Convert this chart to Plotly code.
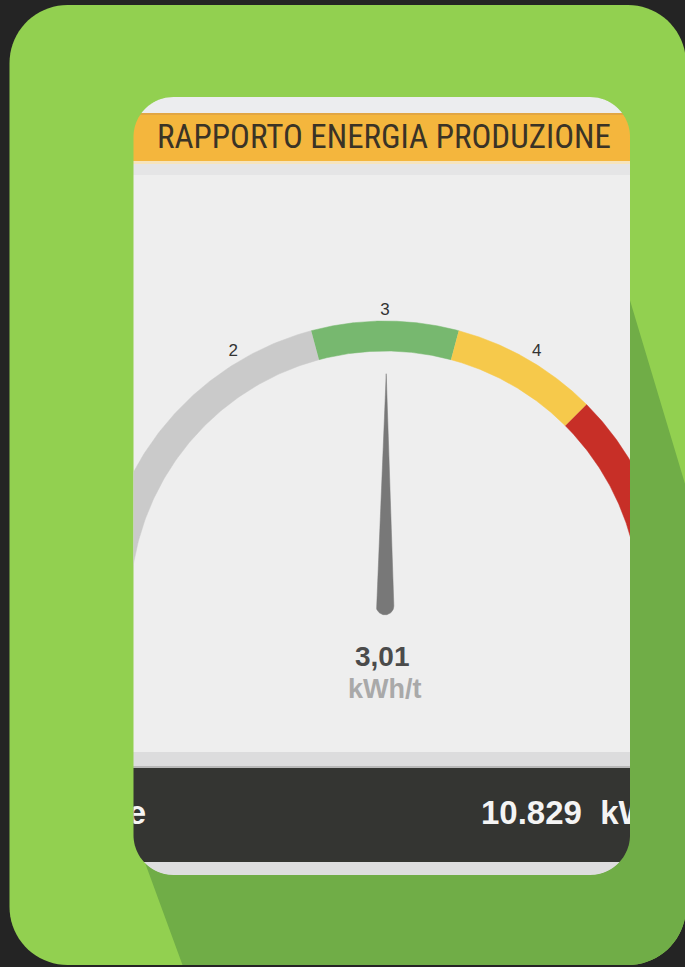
import numpy as np
import plotly.graph_objects as go

# ---------------- data ----------------
title_text = "RAPPORTO ENERGIA PRODUZIONE"
gauge_min, gauge_max = 0, 6
band_edges = [0, 2.5, 3.5, 4.5, 6]
band_colors = ["#cacaca", "#77b86f", "#f6c94b", "#c72f27"]
tick_values = [2, 3, 4]
tick_labels = ["2", "3", "4"]
value = 3.01
unit_label = "kWh/t"
total_label = "Consumo totale"
total_value = 10829
total_unit = "kWh"

# ---------------- geometry (pixels) ----------------
W, H = 685, 967
CX, CY = 385, 606          # gauge centre
RPX = 285                  # outer radius in px
R_IN = 255 / RPX           # inner radius (units of outer radius)
CARD = (133.5, 97, 630, 875)
CARD_R = 40
BG = (9.5, 5, 686, 965)
BG_R = 58


def px2paper(pts):
    return [(x / W, 1 - y / H) for x, y in pts]


def path_from(pts):
    pp = px2paper(pts)
    s = "M %.5f,%.5f " % pp[0]
    s += " ".join("L %.5f,%.5f" % p for p in pp[1:])
    return s + " Z"


def rounded_rect_pts(x0, y0, x1, y1, r, n=20):
    pts = []
    corners = [((x1 - r, y0 + r), -np.pi / 2, 0),
               ((x1 - r, y1 - r), 0, np.pi / 2),
               ((x0 + r, y1 - r), np.pi / 2, np.pi),
               ((x0 + r, y0 + r), np.pi, 1.5 * np.pi)]
    for (cx, cy), a0, a1 in corners:
        for t in np.linspace(a0, a1, n):
            pts.append((cx + r * np.cos(t), cy + r * np.sin(t)))
    return pts


def card_bounds(y):
    x0, y0, x1, y1 = CARD
    r = CARD_R
    if y < y0 + r:
        dy = y0 + r - y
    elif y > y1 - r:
        dy = y - (y1 - r)
    else:
        dy = 0
    dx = r - np.sqrt(max(r * r - dy * dy, 0))
    return x0 + dx, x1 - dx


def band_pts(ya, yb, n=40):
    ys = np.linspace(ya, yb, n)
    left = [(card_bounds(y)[0], y) for y in ys]
    right = [(card_bounds(y)[1], y) for y in ys[::-1]]
    return left + right


shapes = []
# green tile
shapes.append(dict(type="path", xref="paper", yref="paper", layer="below",
                   path=path_from(rounded_rect_pts(*BG, BG_R)),
                   fillcolor="#92d050", line=dict(width=0)))
# long shadow
bx0, by0, bx1, by1 = BG
sh = [(625.4, 285), (bx1, 297 + (bx1 - 629) / 0.30), (bx1, by1 - BG_R)]
for t in np.linspace(0, np.pi / 2, 20):
    sh.append((bx1 - BG_R + BG_R * np.cos(t), by1 - BG_R + BG_R * np.sin(t)))
sh += [(182.5, by1), (136.7, 840), (620, 840), (620, 300)]
shapes.append(dict(type="path", xref="paper", yref="paper", layer="below",
                   path=path_from(sh), fillcolor="#70ad47", line=dict(width=0)))
# card bands
card_bands = [(97, 113, "#ecedef"), (113, 115, "#e2a643"), (115, 161, "#f4b63d"),
              (161, 164, "#f6e4bd"), (164, 175, "#e5e5e6"), (175, 752, "#eeeeee"),
              (752, 766, "#dcdcdd"), (766, 768, "#b8b8b8"), (768, 862, "#343532"),
              (862, 875, "#dededf")]
for ya, yb, col in card_bands:
    shapes.append(dict(type="path", xref="paper", yref="paper", layer="below",
                       path=path_from(band_pts(ya, yb)),
                       fillcolor=col, line=dict(width=0)))

fig = go.Figure()


def ang(v):
    return np.pi * (1 - (v - gauge_min) / (gauge_max - gauge_min))


# gauge bands
for a, b, c in zip(band_edges[:-1], band_edges[1:], band_colors):
    t = np.linspace(ang(a), ang(b), 120)
    xs = np.concatenate([np.cos(t), R_IN * np.cos(t[::-1])])
    ys = np.concatenate([np.sin(t), R_IN * np.sin(t[::-1])])
    fig.add_trace(go.Scatter(x=xs, y=ys, fill="toself", fillcolor=c, mode="lines",
                             line=dict(color=c, width=0.5), hoverinfo="skip",
                             showlegend=False))

# needle
th = ang(value)
tip = 0.815
base_r = 0.031
tb = th + np.linspace(np.pi / 2, 1.5 * np.pi, 40)
nx = [tip * np.cos(th)] + list(base_r * np.cos(tb)) + [tip * np.cos(th)]
ny = [tip * np.sin(th)] + list(base_r * np.sin(tb)) + [tip * np.sin(th)]
fig.add_trace(go.Scatter(x=nx, y=ny, fill="toself", fillcolor="#787878", mode="lines",
                         line=dict(color="#787878", width=0.5), hoverinfo="skip",
                         showlegend=False))

# tick labels
lr = 295 / RPX
tx = [lr * np.cos(ang(v)) + 0.03 * np.cos(ang(v)) for v in tick_values]
ty = [lr * np.sin(ang(v)) - 0.012 * abs(np.cos(ang(v))) for v in tick_values]
fig.add_trace(go.Scatter(x=tx, y=ty, mode="text", text=tick_labels,
                         textfont=dict(family="Liberation Sans, Arial", size=17, color="#333333"),
                         hoverinfo="skip", showlegend=False, cliponaxis=True))


def ux(px):
    return (px - CX) / RPX


def uy(py):
    return (CY - py) / RPX


# bottom bar texts (clipped by the card)
total_text = "{:,}".format(total_value).replace(",", ".") + "\u00a0\u00a0" + total_unit
fig.add_trace(go.Scatter(x=[ux(146)], y=[uy(816)], mode="text", text=["<b>" + total_label + "</b>"],
                         textposition="middle left",
                         textfont=dict(family="Liberation Sans, Arial", size=33, color="#f4f4f4"),
                         hoverinfo="skip", showlegend=False, cliponaxis=True))
fig.add_trace(go.Scatter(x=[ux(481)], y=[uy(816)], mode="text", text=["<b>" + total_text + "</b>"],
                         textposition="middle right",
                         textfont=dict(family="Liberation Sans, Arial", size=33, color="#f4f4f4"),
                         hoverinfo="skip", showlegend=False, cliponaxis=True))

x0, y0, x1, y1 = CARD
annotations = [
    dict(text=title_text, x=384 / W, y=1 - 137 / H, xref="paper", yref="paper",
         showarrow=False, xanchor="center", yanchor="middle",
         font=dict(family="Liberation Sans Narrow, Arial Narrow, Roboto Condensed, Roboto",
                   size=33, color="#3a3326")),
    dict(text="<b>" + ("%.2f" % value).replace(".", ",") + "</b>", x=382 / W, y=1 - 656 / H,
         xref="paper", yref="paper", showarrow=False, xanchor="center", yanchor="middle",
         font=dict(family="Liberation Sans, Arial", size=28, color="#4b4b4b")),
    dict(text="<b>" + unit_label + "</b>", x=385 / W, y=1 - 689 / H,
         xref="paper", yref="paper", showarrow=False, xanchor="center", yanchor="middle",
         font=dict(family="Liberation Sans, Arial", size=27, color="#a9a9a9")),
]

fig.update_layout(
    width=W, height=H, autosize=False,
    margin=dict(l=0, r=0, t=0, b=0, pad=0),
    paper_bgcolor="#242424", plot_bgcolor="rgba(0,0,0,0)",
    shapes=shapes, annotations=annotations, showlegend=False,
    xaxis=dict(domain=[x0 / W, x1 / W], range=[ux(x0), ux(x1)], visible=False,
               fixedrange=True),
    yaxis=dict(domain=[1 - y1 / H, 1 - y0 / H], range=[uy(y1), uy(y0)], visible=False,
               fixedrange=True),
)

fig.write_html("out.html",
               config={"displayModeBar": False},
               post_script="document.body.style.margin='0';"
                           "document.body.style.padding='0';"
                           "document.body.style.background='#242424';"
                           "document.body.style.overflow='hidden';")
